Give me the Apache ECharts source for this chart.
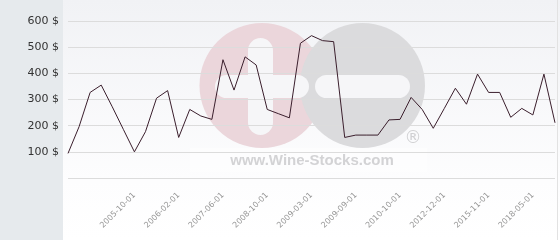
<!DOCTYPE html>
<html>
<head>
<meta charset="utf-8">
<script src="https://cdn.jsdelivr.net/npm/echarts@6/dist/echarts.min.js"></script>
<style>
html,body{margin:0;padding:0;background:#fff;}
#c{width:560px;height:240px;}
</style>
</head>
<body>
<div id="c"></div>
<script>
const categories = [
  '2004-11-01','2005-01-01','2005-03-01','2005-05-01','2005-07-01','2005-09-01',
  '2005-10-01','2005-11-01','2005-12-01','2006-01-01',
  '2006-02-01','2006-06-01','2006-10-01','2007-02-01',
  '2007-06-01','2007-09-01','2008-01-01','2008-05-01',
  '2008-10-01','2008-11-01','2008-12-01','2009-01-01',
  '2009-03-01','2009-05-01','2009-06-01','2009-07-01',
  '2009-09-01','2009-12-01','2010-03-01','2010-06-01',
  '2010-10-01','2011-03-01','2011-09-01','2012-05-01',
  '2012-12-01','2013-06-01','2014-01-01','2014-11-01',
  '2015-11-01','2016-06-01','2017-01-01','2017-09-01',
  '2018-05-01','2019-01-01','2019-09-01'
];
const prices = [
  94, 196, 327, 355, 272, 186, 100, 177, 305, 334,
  155, 262, 237, 224, 452, 336, 463, 432, 262, 246,
  230, 515, 544, 525, 521, 155, 164, 164, 164, 222,
  224, 308, 262, 190, 266, 343, 282, 397, 327, 327,
  232, 266, 241, 397, 211
];
const yTicks = [0, 100, 200, 300, 400, 500, 600];
const labelStart = 6, labelStep = 4;

const chart = echarts.init(document.getElementById('c'), null, {renderer: 'canvas'});
chart.setOption({
  animation: false,
  backgroundColor: '#ffffff',
  graphic: [
    {type: 'rect', z: -20, shape: {x: 63, y: 0, width: 497, height: 240}, silent: true,
     style: {fill: new echarts.graphic.LinearGradient(0, 0, 0, 1, [
       {offset: 0, color: '#f1f2f5'}, {offset: 0.75, color: '#fdfdfe'}, {offset: 1, color: '#ffffff'}])}},
    {type: 'rect', z: -20, shape: {x: 0, y: 0, width: 63, height: 240}, silent: true,
     style: {fill: '#e6eaed'}},
    {type: 'line', z: -19, shape: {x1: 557.5, y1: 0, x2: 557.5, y2: 240}, silent: true,
     style: {stroke: '#e2e2e2', lineWidth: 1}},
    {type: 'rect', z: -19, shape: {x: 190, y: 148, width: 237, height: 24}, silent: true,
     style: {fill: 'rgba(255,255,255,0.45)'}},
    {type: 'circle', z: -18, shape: {cx: 262, cy: 85.5, r: 62.5}, silent: true,
     style: {fill: '#ebd6db'}},
    {type: 'circle', z: -17, shape: {cx: 362.5, cy: 85.5, r: 62.5}, silent: true,
     style: {fill: '#dbdbdd'}},
    {type: 'rect', z: -16, shape: {x: 248, y: 38, width: 25, height: 97, r: 12.5}, silent: true,
     style: {fill: '#f6f6f8'}},
    {type: 'rect', z: -16, shape: {x: 215, y: 75, width: 94, height: 23, r: 11.5}, silent: true,
     style: {fill: '#f6f6f8'}},
    {type: 'rect', z: -16, shape: {x: 315, y: 75, width: 95, height: 23, r: 11.5}, silent: true,
     style: {fill: '#f6f6f8'}},
    {type: 'text', z: -15, x: 312, y: 161, silent: true,
     style: {text: 'www.Wine-Stocks.com', fill: '#d3d3d5', font: 'bold 15px "Liberation Sans", Arial, sans-serif',
             align: 'center', verticalAlign: 'middle'}},
    {type: 'text', z: -15, x: 413, y: 139, silent: true,
     style: {text: '®', fill: '#d0d0d2', font: '17px "DejaVu Sans", sans-serif',
             align: 'center', verticalAlign: 'middle'}}
  ],
  grid: {left: 68, right: 5, top: 21, bottom: 62, containLabel: false},
  xAxis: {
    type: 'category',
    data: categories,
    boundaryGap: false,
    axisLine: {show: false},
    axisTick: {show: false},
    splitLine: {show: false},
    axisLabel: {
      interval: function (idx) { return idx >= labelStart && (idx - labelStart) % labelStep === 0; },
      rotate: 45,
      margin: 16,
      fontSize: 8,
      color: '#969696',
      fontFamily: '"DejaVu Sans", sans-serif'
    }
  },
  yAxis: {
    type: 'value',
    min: yTicks[0],
    max: yTicks[yTicks.length - 1],
    interval: yTicks[1] - yTicks[0],
    axisLine: {show: false},
    axisTick: {show: false},
    splitLine: {show: true, lineStyle: {color: '#dcdcdc', width: 1}},
    axisLabel: {
      margin: 9,
      fontSize: 11,
      color: '#333333',
      fontFamily: '"DejaVu Sans", sans-serif',
      formatter: function (v) { return v === 0 ? '' : v + ' $'; }
    }
  },
  series: [{
    type: 'line',
    data: prices,
    symbol: 'none',
    lineStyle: {color: '#3b1f2d', width: 1},
    z: 5
  }]
});
</script>
</body>
</html>
